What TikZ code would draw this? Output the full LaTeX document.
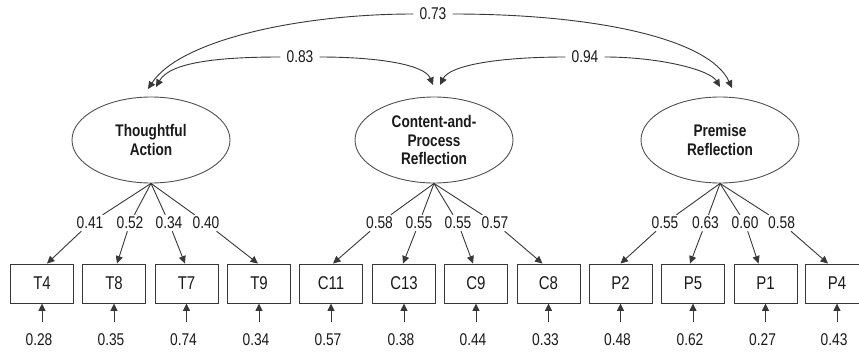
\documentclass[tikz,border=0pt]{standalone}
\usepackage{fontspec}
\setmainfont[FakeStretch=0.81]{Liberation Sans}
\usetikzlibrary{arrows.meta,shapes.geometric}
\definecolor{lncol}{HTML}{383838}
\definecolor{elcol}{HTML}{505050}
\definecolor{txcol}{HTML}{1A1A1A}
\begin{document}
\begin{tikzpicture}[x=1pt,y=-1pt,
  every node/.style={font=\fontsize{17}{19}\selectfont, text=txcol},
  lat/.style={draw=elcol, line width=0.9pt, ellipse, minimum width=158pt, minimum height=86pt, inner sep=0pt, align=center, font=\fontsize{16.8}{18.5}\selectfont\bfseries},
  obs/.style={draw=lncol, line width=0.9pt, rectangle, minimum width=63pt, minimum height=39pt, inner sep=0pt, font=\fontsize{18.5}{20}\selectfont},
  lbl/.style={inner sep=2pt},
  clbl/.style={inner xsep=6pt, inner ysep=2pt},
  arr/.style={draw=lncol, line width=0.9pt, -{Triangle[length=7.5pt,width=7pt]}},
  seg/.style={draw=lncol, line width=0.9pt}
]
\useasboundingbox (0,0) rectangle (859,351);
\fill[white] (0,0) rectangle (859,351);

\node[lat] (TA) at (151,140) {Thoughtful\\Action};
\node[lat] (CP) at (434,140) {Content-and-\\Process\\Reflection};
\node[lat] (PR) at (720,140) {Premise\\Reflection};

\foreach \n/\x/\lx/\v/\s/\e/\f in {
  T4/42/90/0.41/5/0.28/TA,
  T8/114/130/0.52/3/0.35/TA,
  T7/186.5/169/0.34/-1.5/0.74/TA,
  T9/259/206/0.40/-1/0.34/TA,
  C11/331/379.5/0.58/2/0.57/CP,
  C13/404/419/0.55/-1/0.38/CP,
  C9/476/458/0.55/-3/0.44/CP,
  C8/548.5/495/0.57/-6/0.33/CP,
  P2/620.5/665/0.55/0/0.48/PR,
  P5/693/705.5/0.63/-3/0.62/PR,
  P1/765.5/745/0.60/-7/0.27/PR,
  P4/837/781.5/0.58/-9/0.43/PR} {
  \node[obs] (\n) at (\x,283.5) {\n};
  \node[lbl] (L\n) at (\lx,223) {\v};
  \draw[seg] (\f.south) -- (L\n);
  \draw[arr] (L\n) -- ([xshift=\s pt]\n.north);
  \coordinate (E\n) at (\x,322);
  \draw[arr] (E\n) -- (\n.south);
  \node (V\n) at (\x-3,340) {\e};
}

\coordinate (a73L) at (148,89);
\coordinate (a73R) at (732,88);
\coordinate (a83L) at (156,87);
\coordinate (a83R) at (433,85);
\coordinate (a94L) at (440,85);
\coordinate (a94R) at (720,87);
\node[clbl] (L73) at (433,14) {0.73};
\node[clbl] (L83) at (300,57) {0.83};
\node[clbl] (L94) at (585,57) {0.94};
\draw[arr] (L73) .. controls (300,14) and (180,40) .. (a73L);
\draw[arr] (L73) .. controls (600,14) and (710,40) .. (a73R);
\draw[arr] (L83) .. controls (220,57) and (170,62) .. (a83L);
\draw[arr] (L83) .. controls (380,57) and (425,65) .. (a83R);
\draw[arr] (L94) .. controls (500,57) and (450,65) .. (a94L);
\draw[arr] (L94) .. controls (660,57) and (710,70) .. (a94R);
\end{tikzpicture}
\end{document}
